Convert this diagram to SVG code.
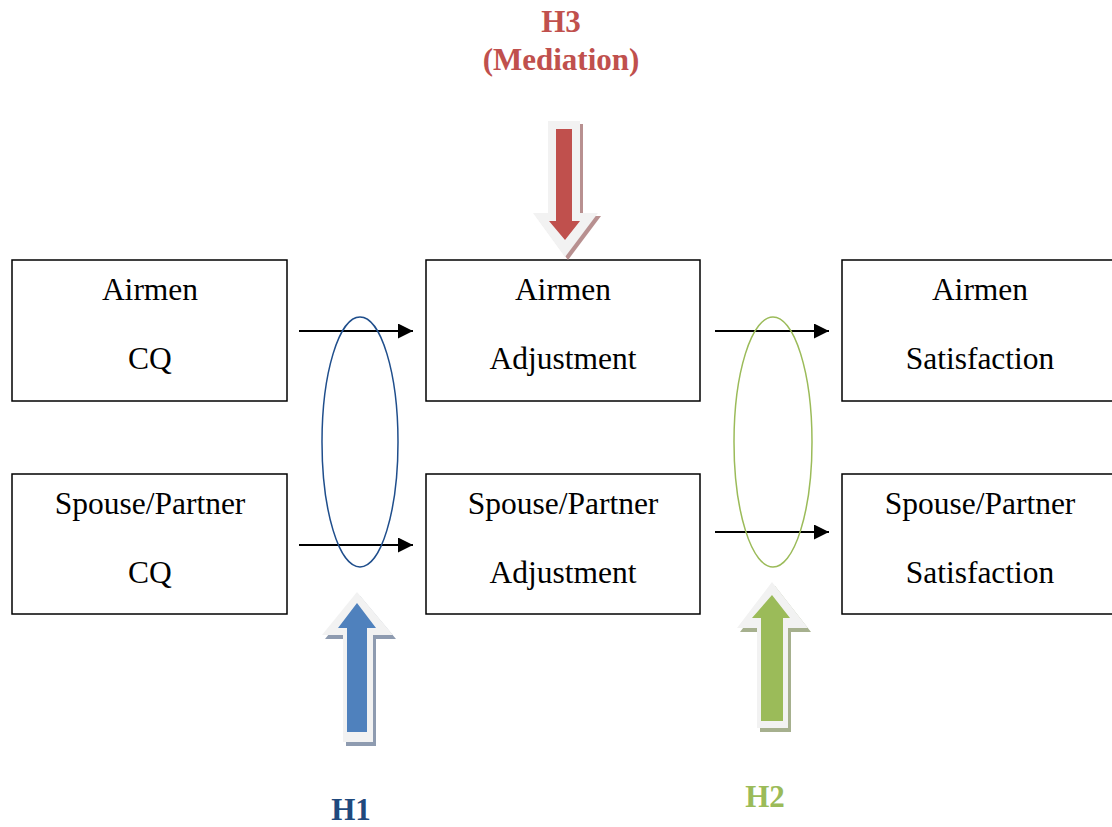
<svg xmlns="http://www.w3.org/2000/svg" width="1112" height="827" viewBox="0 0 1112 827">
<style>
.box{fill:#fff;stroke:#000;stroke-width:1.5}
.t{font-family:"Liberation Serif","Times New Roman",serif;font-size:31.5px;text-anchor:middle;fill:#000}
.lbl{font-family:"Liberation Serif","Times New Roman",serif;font-size:31px;font-weight:bold;text-anchor:middle}
.conn{stroke:#000;stroke-width:2;fill:none;marker-end:url(#ah)}
.halo{fill:#f2f2f2}
</style>
<defs>
<marker id="ah" viewBox="0 0 10 10" refX="10" refY="5" markerWidth="15" markerHeight="15" markerUnits="userSpaceOnUse" orient="auto" preserveAspectRatio="none">
<path d="M0,0 L10,5 L0,10 Z" fill="#000"/>
</marker>
</defs>
<rect width="1112" height="827" fill="#fff"/>

<g id="n-airmen-cq"><rect class="box" x="12" y="260" width="275" height="141"/><text class="t" x="150" y="300">Airmen</text><text class="t" x="150" y="369">CQ</text></g>
<g id="n-airmen-adj"><rect class="box" x="426" y="260" width="274" height="141"/><text class="t" x="563" y="300">Airmen</text><text class="t" x="563" y="369">Adjustment</text></g>
<g id="n-airmen-sat"><rect class="box" x="842" y="260" width="275" height="141"/><text class="t" x="980" y="300">Airmen</text><text class="t" x="980" y="369">Satisfaction</text></g>
<g id="n-spouse-cq"><rect class="box" x="12" y="474" width="275" height="140"/><text class="t" x="150" y="514">Spouse/Partner</text><text class="t" x="150" y="583">CQ</text></g>
<g id="n-spouse-adj"><rect class="box" x="426" y="474" width="274" height="140"/><text class="t" x="563" y="514">Spouse/Partner</text><text class="t" x="563" y="583">Adjustment</text></g>
<g id="n-spouse-sat"><rect class="box" x="842" y="474" width="275" height="140"/><text class="t" x="980" y="514">Spouse/Partner</text><text class="t" x="980" y="583">Satisfaction</text></g>

<g id="connectors">
<line class="conn" x1="299" y1="331" x2="413" y2="331"/>
<line class="conn" x1="299" y1="545" x2="413" y2="545"/>
<line class="conn" x1="715" y1="331" x2="829" y2="331"/>
<line class="conn" x1="715" y1="532" x2="829" y2="532"/>
</g>

<g id="h1-group">
<ellipse cx="360" cy="442" rx="38" ry="125" fill="none" stroke="#1f4e8c" stroke-width="1.5"/>
<path d="M360,596 L396,639 L376,639 L376,746 L346,746 L346,639 L325,639 Z" fill="#8e9bb0"/>
<path class="halo" d="M357,592 L393,635 L373,635 L373,742 L343,742 L343,635 L322,635 Z"/>
<path d="M357,603 L376,628 L367,628 L367,732 L347,732 L347,628 L338,628 Z" fill="#4f81bd"/>
<text class="lbl" x="351" y="820" fill="#1f497d">H1</text>
</g>

<g id="h2-group">
<ellipse cx="773" cy="442" rx="39" ry="125" fill="none" stroke="#9bbb59" stroke-width="1.5"/>
<path d="M775,586 L811,632 L791,632 L791,732 L760,732 L760,632 L740,632 Z" fill="#a6b08e"/>
<path class="halo" d="M772,582 L808,628 L788,628 L788,728 L757,728 L757,628 L737,628 Z"/>
<path d="M772,595 L790,618 L783,618 L783,721 L761,721 L761,618 L752,618 Z" fill="#9bbb59"/>
<text class="lbl" x="765" y="807" fill="#9bbb59">H2</text>
</g>

<g id="h3-group">
<path d="M551,124 L583,124 L583,216 L601,216 L568,260 L536,216 L551,216 Z" fill="#b89090"/>
<path class="halo" d="M548,121 L580,121 L580,213 L598,213 L565,257 L533,213 L548,213 Z"/>
<path d="M556,129 L572,129 L572,221 L580,221 L565,240 L549,221 L556,221 Z" fill="#c0504d"/>
<text class="lbl" x="561" y="32" fill="#c0504d">H3</text>
<text class="lbl" x="561" y="70" fill="#c0504d">(Mediation)</text>
</g>
</svg>
